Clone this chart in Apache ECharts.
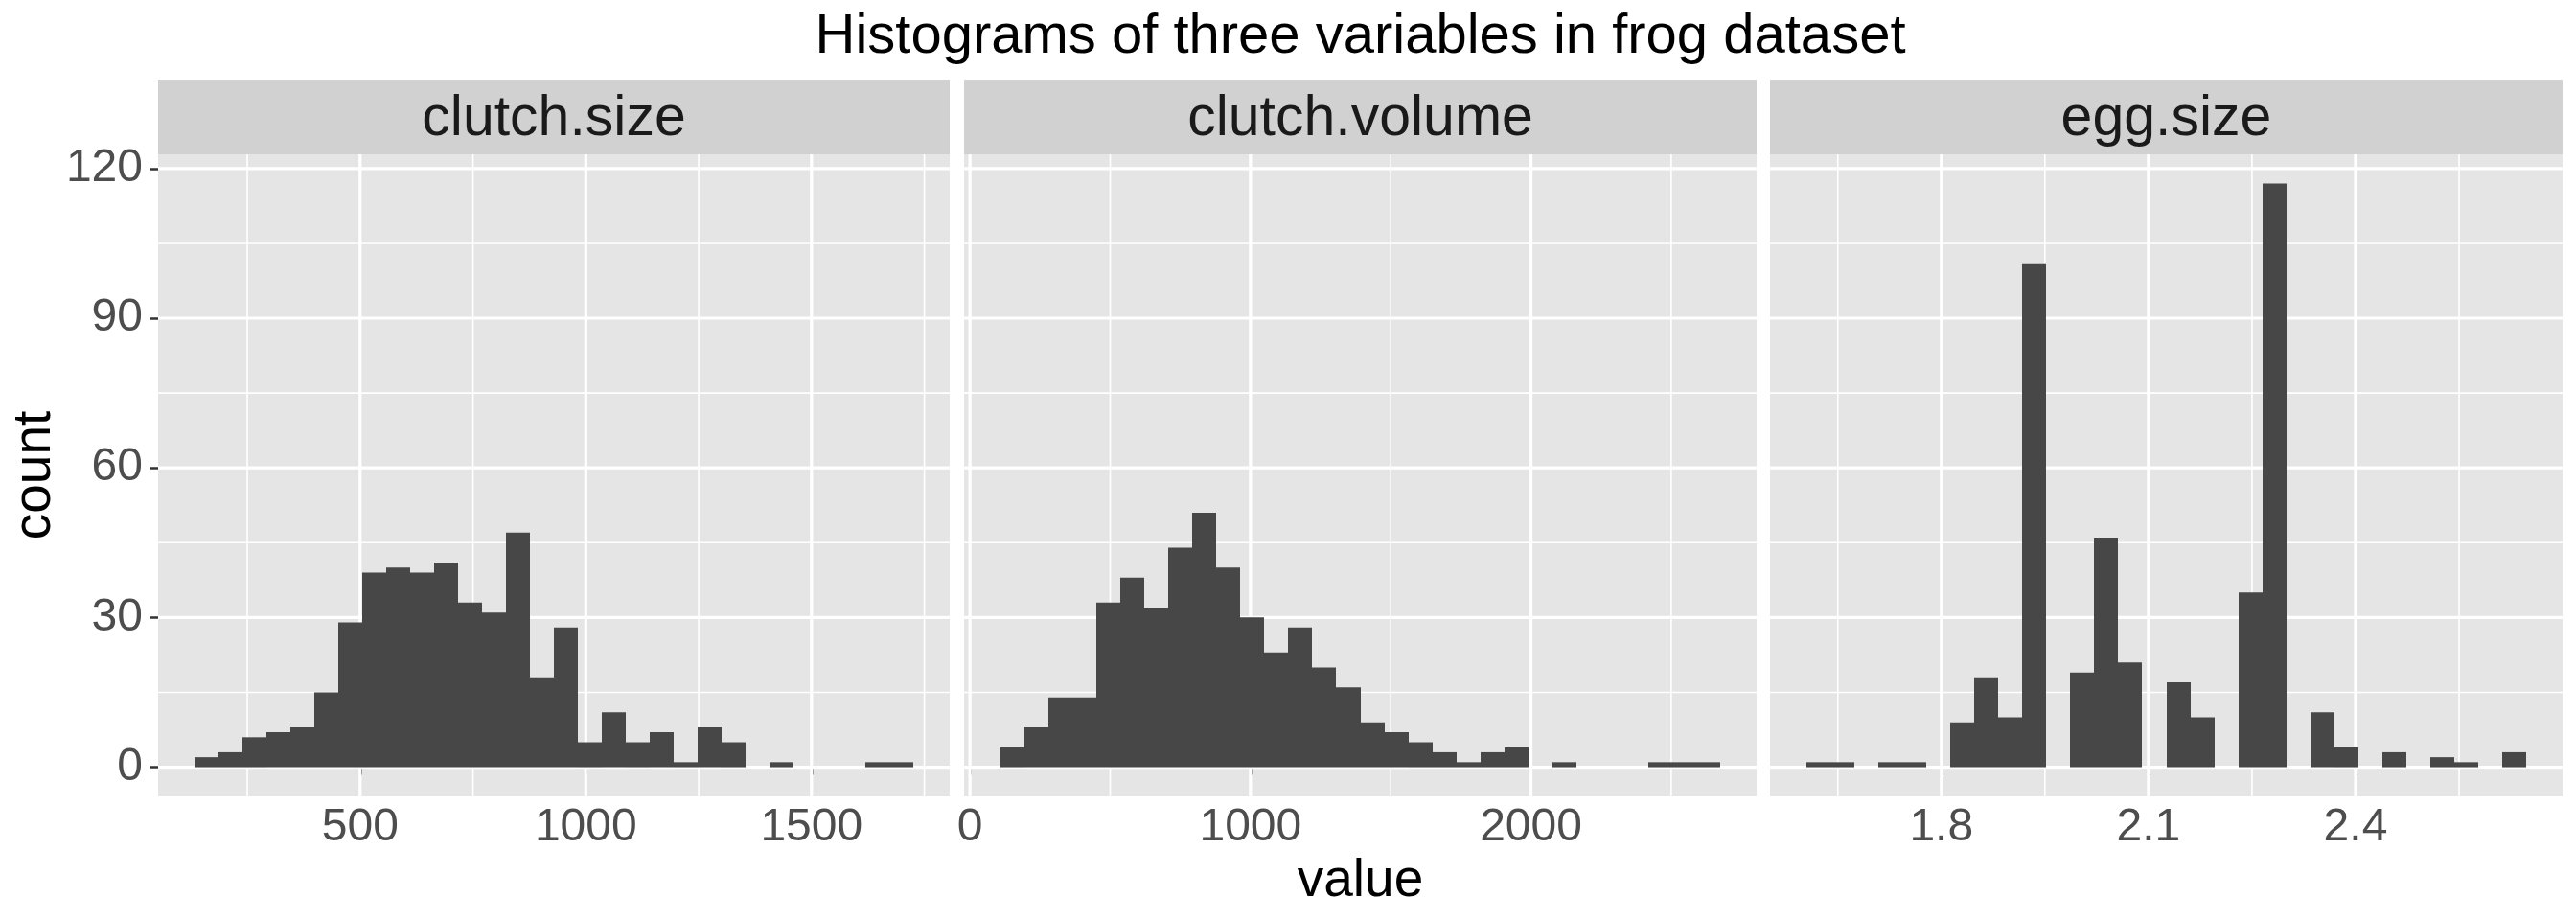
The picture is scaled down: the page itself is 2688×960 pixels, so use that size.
<!DOCTYPE html>
<html><head><meta charset="utf-8">
<script src="https://cdn.jsdelivr.net/npm/echarts@6/dist/echarts.min.js"></script>
<style>html,body{margin:0;padding:0;background:#fff}#chart{width:2688px;height:960px}</style>
</head><body><div id="chart"></div>
<script>
// ---------- data ----------
const chartTitle = 'Histograms of three variables in frog dataset';
const panelNames = ['clutch.size', 'clutch.volume', 'egg.size'];
const xAxisTitle = 'value';
const yAxisTitle = 'count';

// counts per bin (30 bins each)
const clutchSizeCounts   = [2,3,6,7,8,15,29,39,40,39,41,33,31,47,18,28,5,11,5,7,1,8,5,0,1,0,0,0,1,1];
const clutchVolumeCounts = [4,8,14,14,33,38,32,44,51,40,30,23,28,20,16,9,7,5,3,1,3,4,0,1,0,0,0,1,1,1];
const eggSizeCounts      = [1,1,0,1,1,0,9,18,10,101,0,19,46,21,0,17,10,0,35,117,0,11,4,0,3,0,2,1,0,3];

// histogram breaks: first bin start and bin width per panel
const binStarts = [132.2, 107.4, 1.6040];
const binWidths = [53.14, 85.62, 0.03479];

// axis ticks
const xMajorTicks = [[500, 1000, 1500], [0, 1000, 2000], [1.8, 2.1, 2.4]];
const xMinorTicks = [[250, 750, 1250, 1750], [500, 1500, 2500], [1.65, 1.95, 2.25, 2.55]];
const xTickLabels = [['500', '1000', '1500'], ['0', '1000', '2000'], ['1.8', '2.1', '2.4']];
const yMajorTicks = [0, 30, 60, 90, 120];
const yMinorTicks = [15, 45, 75, 105];
const yTickLabels = ['0', '30', '60', '90', '120'];

// axis ranges (with ggplot-style 5% expansion)
const xRanges = [[52.5, 1806.1], [-21.0, 2804.4], [1.5518, 2.6999]];
const yRange = [-5.85, 122.85];

// ---------- layout / style ----------
const FONT = '"Liberation Sans", Arial, Helvetica, sans-serif';
const panelLefts = [165, 1006, 1847];
const panelWidths = [826, 827, 827];
const panelTop = 161;
const panelHeight = 670;
const stripTop = 83;
const stripHeight = 78;
const BAR = '#474747';
const PANEL_BG = '#E5E5E5';
const STRIP_BG = '#D1D1D1';

const allCounts = [clutchSizeCounts, clutchVolumeCounts, eggSizeCounts];

const grids = [], xAxes = [], yAxes = [], series = [], graphics = [];

for (let p = 0; p < 3; p++) {
  grids.push({
    left: panelLefts[p], top: panelTop, width: panelWidths[p], height: panelHeight,
    show: true, backgroundColor: PANEL_BG, borderWidth: 0, containLabel: false
  });
  const labels = xTickLabels[p];
  const majors = xMajorTicks[p];
  xAxes.push({
    type: 'value', gridIndex: p, min: xRanges[p][0], max: xRanges[p][1],
    axisLine: { show: false },
    axisTick: { show: true, customValues: majors, length: 8, lineStyle: { color: '#333333', width: 2.5 } },
    axisLabel: {
      show: true, customValues: majors, margin: 9, fontSize: 48, color: '#4D4D4D', fontFamily: FONT,
      formatter: function (v) { const i = majors.findIndex(m => Math.abs(m - v) < 1e-9); return i >= 0 ? labels[i] : ''; }
    },
    splitLine: { show: false }, minorTick: { show: false }
  });
  yAxes.push({
    type: 'value', gridIndex: p, min: yRange[0], max: yRange[1],
    axisLine: { show: false },
    axisTick: { show: p === 0, customValues: yMajorTicks, length: 8, lineStyle: { color: '#333333', width: 2.5 } },
    axisLabel: {
      show: p === 0, customValues: yMajorTicks, margin: 16, fontSize: 48, color: '#4D4D4D', fontFamily: FONT,
      formatter: function (v) { const i = yMajorTicks.findIndex(m => Math.abs(m - v) < 1e-9); return i >= 0 ? yTickLabels[i] : ''; }
    },
    splitLine: { show: false }
  });

  // grid lines: [value, kind] kind 0 x-major, 1 x-minor, 2 y-major, 3 y-minor
  const gl = [];
  xMinorTicks[p].forEach(v => gl.push([v, 1]));
  yMinorTicks.forEach(v => gl.push([v, 3]));
  xMajorTicks[p].forEach(v => gl.push([v, 0]));
  yMajorTicks.forEach(v => gl.push([v, 2]));
  const xr = xRanges[p];
  series.push({
    type: 'custom', xAxisIndex: p, yAxisIndex: p, z: 1, silent: true,
    data: gl,
    encode: { x: 0, y: 1 },
    renderItem: function (params, api) {
      const v = api.value(0), kind = api.value(1);
      let a, b;
      if (kind < 2) { a = api.coord([v, yRange[0]]); b = api.coord([v, yRange[1]]); }
      else { a = api.coord([xr[0], v]); b = api.coord([xr[1], v]); }
      return { type: 'line', shape: { x1: a[0], y1: a[1], x2: b[0], y2: b[1] },
        style: { stroke: '#FFFFFF', lineWidth: (kind % 2 === 0) ? 3.2 : 1.6 } };
    }
  });

  // histogram bars
  const bars = [];
  allCounts[p].forEach((c, i) => {
    if (c > 0) bars.push([binStarts[p] + i * binWidths[p], binStarts[p] + (i + 1) * binWidths[p], c]);
  });
  series.push({
    type: 'custom', xAxisIndex: p, yAxisIndex: p, z: 2, silent: true,
    data: bars,
    encode: { x: [0, 1], y: 2 },
    renderItem: function (params, api) {
      const p0 = api.coord([api.value(0), 0]);
      const p1 = api.coord([api.value(1), api.value(2)]);
      const x0 = Math.round(p0[0]), x1 = Math.round(p1[0]);
      return { type: 'rect', shape: { x: x0, y: p1[1], width: x1 - x0, height: p0[1] - p1[1] },
        style: { fill: BAR } };
    }
  });

  // strip
  graphics.push({ type: 'rect', shape: { x: panelLefts[p], y: stripTop, width: panelWidths[p], height: stripHeight },
    style: { fill: STRIP_BG }, z: 0 });
  graphics.push({ type: 'text', x: panelLefts[p] + panelWidths[p] / 2, y: 124.5,
    style: { text: panelNames[p], fill: '#1A1A1A', font: '59px ' + FONT, textAlign: 'center', textVerticalAlign: 'middle' }, z: 1 });
}

const plotCenterX = (panelLefts[0] + panelLefts[2] + panelWidths[2]) / 2;
graphics.push({ type: 'text', x: plotCenterX, y: 39,
  style: { text: chartTitle, fill: '#000000', font: '58px ' + FONT, textAlign: 'center', textVerticalAlign: 'middle' } });
graphics.push({ type: 'text', x: plotCenterX, y: 920,
  style: { text: xAxisTitle, fill: '#000000', font: '55px ' + FONT, textAlign: 'center', textVerticalAlign: 'middle' } });
graphics.push({ type: 'text', x: 37, y: panelTop + panelHeight / 2, rotation: Math.PI / 2,
  style: { text: yAxisTitle, fill: '#000000', font: '55px ' + FONT, textAlign: 'center', textVerticalAlign: 'middle' } });

const chart = echarts.init(document.getElementById('chart'), null, { renderer: 'canvas' });
chart.setOption({
  animation: false,
  backgroundColor: '#FFFFFF',
  grid: grids, xAxis: xAxes, yAxis: yAxes, series: series,
  graphic: { elements: graphics }
});
</script>
</body></html>
